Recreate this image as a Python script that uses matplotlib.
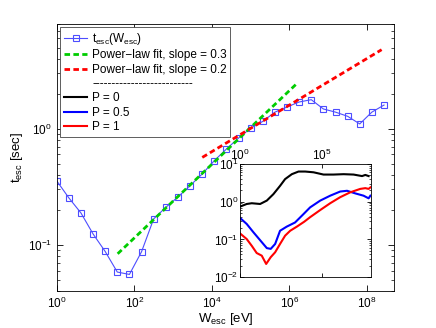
import numpy as np
import matplotlib
matplotlib.use("Agg")
import matplotlib.pyplot as plt
from matplotlib.lines import Line2D
from matplotlib.ticker import LogLocator, NullLocator, NullFormatter

plt.rcParams['font.family'] = ['Liberation Sans', 'DejaVu Sans']
plt.rcParams['mathtext.default'] = 'regular'
plt.rcParams['font.size'] = 7.5

# escape time vs escape energy (blue squares)
w_esc = [1, 2.05, 4.22, 8.66, 17.8, 36.5, 75.0, 154, 316, 649, 1334, 2738,
         5623, 11550, 23700, 48700, 1.0e5, 2.05e5, 4.22e5, 8.66e5, 1.78e6,
         3.65e6, 7.5e6, 1.54e7, 3.16e7, 6.49e7, 1.33e8, 2.74e8]
t_esc = [0.356, 0.254, 0.188, 0.124, 0.0875, 0.0582, 0.0555, 0.0871, 0.167,
         0.210, 0.258, 0.323, 0.407, 0.530, 0.668, 0.831, 1.01, 1.156, 1.39,
         1.54, 1.70, 1.78, 1.48, 1.39, 1.28, 1.10, 1.39, 1.60]

# power-law fits (end points)
fit03_w = [37.3, 1.53e6]
fit03_t = [0.0836, 2.44]
fit02_w = [5660, 2.38e8]
fit02_t = [0.566, 4.80]

# inset curves, log10 of energy and time
p0_logw = [0, 0.41, 0.72, 1.23, 1.64, 2.04, 2.45, 2.76, 3.17, 3.58, 3.99,
           4.50, 5.11, 5.72, 6.34, 6.95, 7.47, 7.67, 7.87]
p0_logt = [-0.13, -0.06, -0.04, -0.06, 0.03, 0.20, 0.42, 0.60, 0.73, 0.80,
           0.80, 0.78, 0.72, 0.72, 0.73, 0.72, 0.68, 0.71, 0.68]
p05_logw = [0, 0.41, 0.82, 1.23, 1.64, 1.88, 2.15, 2.45, 2.86, 3.37, 3.88,
            4.29, 4.91, 5.52, 6.13, 6.55, 7.06, 7.56, 7.87, 7.98]
p05_logt = [-0.43, -0.59, -0.81, -1.02, -1.23, -1.25, -1.12, -0.77, -0.66,
            -0.55, -0.33, -0.15, 0.03, 0.16, 0.27, 0.29, 0.22, 0.16, 0.09, 0.16]
p1_logw = [0, 0.41, 0.72, 1.02, 1.33, 1.60, 1.88, 2.15, 2.45, 2.76, 3.07,
           3.48, 3.93, 4.29, 4.91, 5.52, 6.13, 6.75, 7.36, 7.67, 7.87, 7.98]
p1_logt = [-0.84, -0.99, -1.17, -1.36, -1.43, -1.65, -1.47, -1.34, -1.12,
           -0.90, -0.77, -0.66, -0.53, -0.41, -0.22, -0.04, 0.12, 0.25, 0.34,
           0.36, 0.34, 0.38]

fig = plt.figure(figsize=(4.36, 3.28), dpi=100)
ax = fig.add_axes([0.130, 0.113, 0.774, 0.814])

ax.loglog(w_esc, t_esc, '-s', color='#4d4dff', lw=0.8, ms=4,
          mfc='none', mec='#4d4dff', mew=0.8, label='t$_{esc}$(W$_{esc}$)')
ax.loglog(fit03_w, fit03_t, '--', color='#00cc00', lw=2, dashes=(2, 1.2),
          label='Power\u2212law fit, slope = 0.3')
ax.loglog(fit02_w, fit02_t, '--', color='red', lw=2, dashes=(2, 1.2),
          label='Power\u2212law fit, slope = 0.2')

ax.set_xlim(1, 5e8)
ax.set_ylim(0.04, 8)
ax.set_xticks([1e0, 1e2, 1e4, 1e6, 1e8])
ax.xaxis.set_minor_locator(NullLocator())
ax.yaxis.set_minor_locator(LogLocator(base=10, subs=np.arange(2, 10)))
ax.yaxis.set_minor_formatter(NullFormatter())
ax.tick_params(which='both', direction='in', top=True, right=True,
               labelsize=8.5)
ax.tick_params(which='major', length=4, width=0.6)
ax.tick_params(which='minor', length=2, width=0.5)
for s in ax.spines.values():
    s.set_linewidth(0.6)
ax.set_xlabel('W$_{esc}$ [eV]', fontsize=9.5, labelpad=0)
ax.set_ylabel('t$_{esc}$ [sec]', fontsize=9.5, labelpad=2)

handles, labels = ax.get_legend_handles_labels()
handles += [Line2D([], [], color='none'),
            Line2D([], [], color='black', lw=1.5),
            Line2D([], [], color='blue', lw=1.5),
            Line2D([], [], color='red', lw=1.5)]
labels += ['-' * 26, 'P = 0', 'P = 0.5', 'P = 1']
leg = ax.legend(handles, labels, loc='upper left', fontsize=8.5,
                fancybox=False, framealpha=1, edgecolor='#444444',
                handlelength=2.0, handletextpad=0.4, labelspacing=0.2,
                borderaxespad=0.3, borderpad=0.3)
leg.get_frame().set_linewidth(0.6)

# inset
ins = fig.add_axes([0.5505, 0.155, 0.2998, 0.345])
ins.loglog(10 ** np.array(p0_logw), 10 ** np.array(p0_logt), color='black', lw=1.5)
ins.loglog(10 ** np.array(p05_logw), 10 ** np.array(p05_logt), color='blue', lw=1.5)
ins.loglog(10 ** np.array(p1_logw), 10 ** np.array(p1_logt), color='red', lw=1.5)
ins.set_xlim(1, 1e8)
ins.set_ylim(0.01, 10)
ins.set_xticks([1e0, 1e5])
ins.xaxis.set_minor_locator(NullLocator())
ins.set_yticks([1e-2, 1e-1, 1e0, 1e1])
ins.yaxis.set_minor_locator(LogLocator(base=10, subs=np.arange(2, 10)))
ins.yaxis.set_minor_formatter(NullFormatter())
ins.xaxis.tick_top()
ins.tick_params(which='both', direction='in', top=True, bottom=True,
                right=True, labelsize=8.5, pad=1)
ins.tick_params(which='major', length=3, width=0.6)
ins.tick_params(which='minor', length=1.5, width=0.5)
for s in ins.spines.values():
    s.set_linewidth(0.6)

fig.savefig('out.png', dpi=100)
